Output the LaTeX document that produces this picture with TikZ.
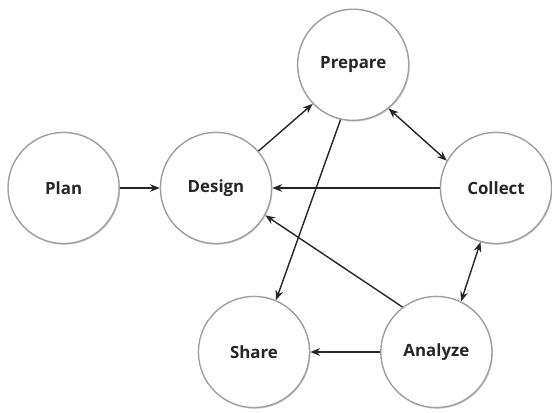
\documentclass[tikz,border=0pt]{standalone}
\usepackage{fontspec}
\setmainfont{Open Sans}
\usepackage{xcolor}
\usepackage{tikz}
\usetikzlibrary{arrows.meta,shadows}

\begin{document}
\begin{tikzpicture}[
    stage/.style={circle, draw=gray!75, line width=1pt, fill=white,
      minimum size=2.78cm, inner sep=0pt,
      font=\bfseries\fontsize{12}{14}\selectfont, text=black!85,
      drop shadow={shadow xshift=0.7pt, shadow yshift=-0.9pt, opacity=0.3}},
    arr/.style={-{Stealth[length=7pt, width=5.5pt]}, line width=1pt, black!85},
    biarr/.style={{Stealth[length=7pt, width=5.5pt]}-{Stealth[length=7pt, width=5.5pt]},
      line width=1pt, black!85}
  ]

  \useasboundingbox (0,0) rectangle (13.8,10.3);

  % ══ STAGES ════════════════════════════════════════════════════════════════
  \node[stage] (plan)    at (1.59, 5.60) {Plan};
  \node[stage] (design)  at (5.40, 5.60) {Design};
  \node[stage] (prepare) at (8.83, 8.68) {Prepare};
  \node[stage] (collect) at (12.40, 5.60) {Collect};
  \node[stage] (share)   at (6.35, 1.50) {Share};
  \node[stage] (analyze) at (10.91, 1.50) {Analyze};

  % ══ FLOWS ═════════════════════════════════════════════════════════════════
  \draw[arr] (plan) -- (design);
  \draw[arr] (design.41) -- (prepare.-136);
  \draw[biarr] (prepare.-51) -- (collect.151);
  \draw[arr] (collect) -- (design);
  \draw[arr] (prepare.-103) -- (share.67);
  \draw[arr] (analyze.127) -- (design.-29);
  \draw[biarr] (analyze.64) -- (collect.-106);
  \draw[arr] (analyze) -- (share);

\end{tikzpicture}
\end{document}
